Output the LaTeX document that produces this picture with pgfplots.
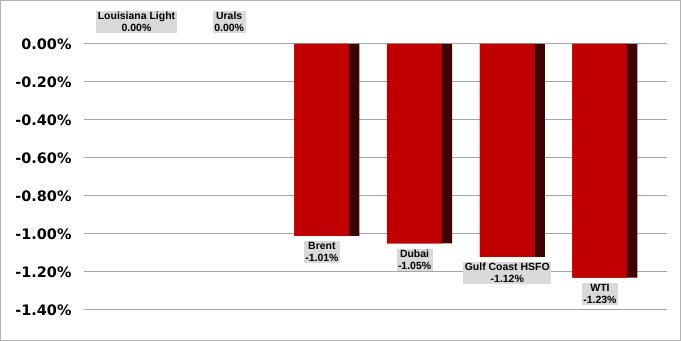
\documentclass[border=0pt]{standalone}
\usepackage{fontspec}
\setmainfont{Liberation Sans}
\newfontfamily\dejavub{DejaVu Sans Bold}
\usepackage{pgfplots}
\pgfplotsset{compat=1.18}
\definecolor{barred}{HTML}{C00000}
\definecolor{barside}{HTML}{3F0000}
\definecolor{lblfill}{HTML}{D9D9D9}
\definecolor{gridgray}{HTML}{A6A6A6}
\begin{document}
\begin{tikzpicture}
\useasboundingbox (0,0) rectangle (681bp,341bp);
\draw[color=gray!60, line width=1bp] (0.5bp,0.5bp) rectangle (680.5bp,340.5bp);
\begin{axis}[
  at={(88bp,31bp)}, anchor=south west,
  scale only axis, width=575bp, height=266bp,
  xmin=-0.523, xmax=5.680, ymin=-1.4, ymax=0,
  xtick=\empty,
  ytick={-1.4,-1.2,-1.0,-0.8,-0.6,-0.4,-0.2,0},
  yticklabel={{\dejavub\fontsize{14.5}{16}\selectfont\pgfmathprintnumber[fixed,fixed zerofill,precision=2,assume math mode=true]{\tick}\%}},
  /pgf/number format/assume math mode=true,
  yticklabel style={xshift=-9bp},
  ymajorgrids, grid style={color=gridgray, line width=1bp},
  axis line style={draw=none},
  tick align=outside, major tick length=4bp,
  ytick style={color=gridgray, line width=1bp},
  clip=false,
]
% dark side of the bars
\addplot[ybar, bar width=65bp, bar shift=5bp, fill=barside, draw=none]
  coordinates {(2,-1.01) (3,-1.05) (4,-1.12) (5,-1.23)};
% red face of the bars
\addplot[ybar, bar width=55bp, bar shift=0bp, fill=barred, draw=none]
  coordinates {(2,-1.01) (3,-1.05) (4,-1.12) (5,-1.23)};
% labels for negative bars
\addplot[draw=none, mark=none, nodes near coords, point meta=explicit symbolic,
  every node near coord/.style={anchor=north, yshift=-5bp, align=center,
    fill=lblfill, inner xsep=1.5bp, inner ysep=1.2bp,
    font=\bfseries\fontsize{10.5}{12}\selectfont}]
  coordinates {(2,-1.01) [{Brent\\-1.01\%}] (3,-1.05) [{Dubai\\-1.05\%}]
               (4,-1.12) [{Gulf Coast HSFO\\-1.12\%}] (5,-1.23) [{WTI\\-1.23\%}]};
% labels for zero values
\addplot[draw=none, mark=none, nodes near coords, point meta=explicit symbolic,
  every node near coord/.style={anchor=south, yshift=11bp, align=center,
    fill=lblfill, inner xsep=1.5bp, inner ysep=1.2bp,
    font=\bfseries\fontsize{10.5}{12}\selectfont}]
  coordinates {(0,0) [{Louisiana Light\\0.00\%}] (1,0) [{Urals\\0.00\%}]};
\end{axis}
\end{tikzpicture}
\end{document}
